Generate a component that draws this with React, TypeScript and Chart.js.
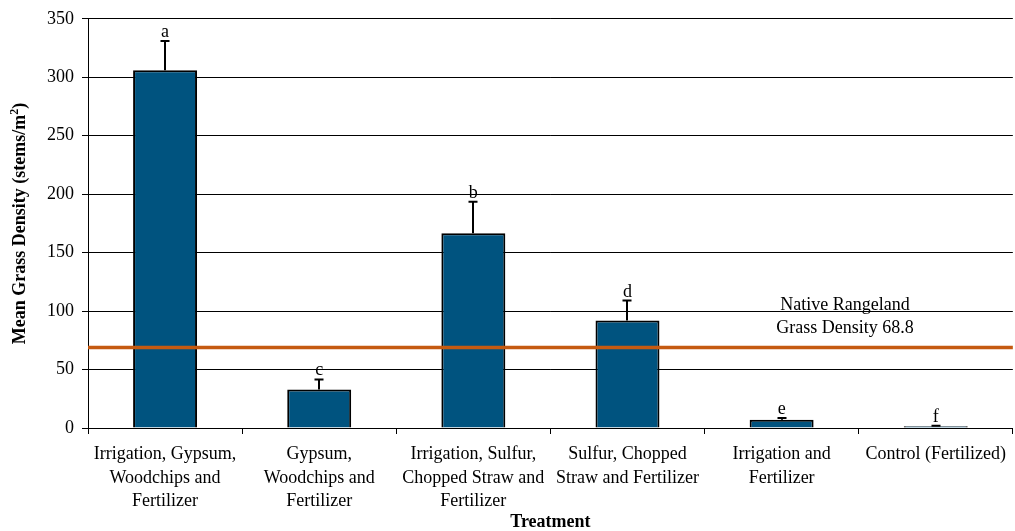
import React, { useEffect, useRef } from "react";
import { Chart, registerables } from "chart.js";

Chart.register(...registerables);

// Treatments (x categories), split into the lines shown under each bar
const treatments: string[][] = [
  ["Irrigation, Gypsum,", "Woodchips and", "Fertilizer"],
  ["Gypsum,", "Woodchips and", "Fertilizer"],
  ["Irrigation, Sulfur,", "Chopped Straw and", "Fertilizer"],
  ["Sulfur, Chopped", "Straw and Fertilizer"],
  ["Irrigation and", "Fertilizer"],
  ["Control (Fertilized)"],
];

// Mean grass density (stems/m²) and the upper error (standard error)
const meanDensity: number[] = [306, 33, 166.5, 92, 7, 1.5];
const stdError: number[] = [25, 8.5, 27, 17, 1.5, 0.5];

// Significance letters above each error bar
const groupLetters: string[] = ["a", "c", "b", "d", "e", "f"];

// Reference level for native rangeland
const nativeDensity = 68.8;
const nativeLabel: string[] = ["Native Rangeland", `Grass Density ${nativeDensity}`];

const yTitleMain = "Mean Grass Density (stems/m";
const yTitleSup = "2";
const yTitleEnd = ")";
const xTitle = "Treatment";

const SERIF = "'Liberation Serif', 'Times New Roman', serif";
const BAR_COLOR = "#00537F";
const LINE_COLOR = "#C55A11";

const overlayPlugin = {
  id: "overlay",
  afterDatasetsDraw(chart: any) {
    const { ctx, chartArea, scales } = chart;
    const y = scales.y;
    const meta = chart.getDatasetMeta(0);
    ctx.save();

    // error bars (upper only)
    ctx.strokeStyle = "#000";
    ctx.lineWidth = 2;
    meta.data.forEach((bar: any, i: number) => {
      const x = Math.round(bar.x);
      const yBar = y.getPixelForValue(meanDensity[i]);
      const yTop = y.getPixelForValue(meanDensity[i] + stdError[i]);
      ctx.beginPath();
      ctx.moveTo(x, yBar);
      ctx.lineTo(x, yTop);
      ctx.moveTo(x - 4.5, yTop);
      ctx.lineTo(x + 4.5, yTop);
      ctx.stroke();
    });

    // native rangeland reference line
    const yRef = y.getPixelForValue(nativeDensity);
    ctx.strokeStyle = LINE_COLOR;
    ctx.lineWidth = 3.5;
    ctx.beginPath();
    ctx.moveTo(chartArea.left, yRef);
    ctx.lineTo(chartArea.right, yRef);
    ctx.stroke();

    // letters
    ctx.fillStyle = "#000";
    ctx.font = `18px ${SERIF}`;
    ctx.textAlign = "center";
    ctx.textBaseline = "alphabetic";
    meta.data.forEach((bar: any, i: number) => {
      const yTop = y.getPixelForValue(meanDensity[i] + stdError[i]);
      ctx.fillText(groupLetters[i], bar.x, yTop - 4);
    });

    // reference line label
    const lx = chartArea.left + (chartArea.right - chartArea.left) * 0.8185;
    ctx.textBaseline = "middle";
    ctx.fillText(nativeLabel[0], lx, yRef - 42);
    ctx.fillText(nativeLabel[1], lx, yRef - 19);

    // axis titles
    ctx.font = `bold 18px ${SERIF}`;
    ctx.textBaseline = "alphabetic";
    ctx.fillText(xTitle, (chartArea.left + chartArea.right) / 2, 527);

    const supFont = `bold 12px ${SERIF}`;
    const mainFont = `bold 18px ${SERIF}`;
    ctx.font = mainFont;
    const w1 = ctx.measureText(yTitleMain).width;
    const w3 = ctx.measureText(yTitleEnd).width;
    ctx.font = supFont;
    const w2 = ctx.measureText(yTitleSup).width;
    const total = w1 + w2 + w3;
    ctx.translate(25, (chartArea.top + chartArea.bottom) / 2);
    ctx.rotate(-Math.PI / 2);
    ctx.textAlign = "left";
    let cx = -total / 2;
    ctx.font = mainFont;
    ctx.fillText(yTitleMain, cx, 0);
    cx += w1;
    ctx.font = supFont;
    ctx.fillText(yTitleSup, cx, -7);
    cx += w2;
    ctx.font = mainFont;
    ctx.fillText(yTitleEnd, cx, 0);

    ctx.restore();
  },
};

export default function App() {
  const canvasRef = useRef<HTMLCanvasElement | null>(null);

  useEffect(() => {
    if (!canvasRef.current) return;
    const chart = new Chart(canvasRef.current, {
      type: "bar",
      data: {
        labels: treatments,
        datasets: [
          {
            data: meanDensity,
            backgroundColor: BAR_COLOR,
            borderColor: "#000",
            borderWidth: 2,
            barPercentage: 0.415,
            categoryPercentage: 1,
          },
        ],
      },
      options: {
        animation: false,
        responsive: false,
        devicePixelRatio: 1,
        layout: { padding: { top: 18, left: 0, right: 0, bottom: 0 } },
        plugins: {
          legend: { display: false },
          tooltip: { enabled: false },
        },
        scales: {
          x: {
            offset: true,
            grid: {
              offset: true,
              drawOnChartArea: false,
              drawTicks: true,
              tickLength: 6,
              color: "#000",
            },
            border: { display: true, color: "#000", width: 1 },
            ticks: {
              autoSkip: false,
              maxRotation: 0,
              minRotation: 0,
              padding: 9,
              color: "#000",
              font: { family: SERIF, size: 18, lineHeight: 1.3 },
            },
            afterFit: (scale: any) => {
              scale.height = 103;
            },
          },
          y: {
            min: 0,
            max: 350,
            ticks: {
              stepSize: 50,
              padding: 8,
              color: "#000",
              font: { family: SERIF, size: 18 },
            },
            grid: { color: "#000", tickLength: 6, drawTicks: true },
            border: { display: true, color: "#000", width: 1 },
            afterFit: (scale: any) => {
              scale.width = 88;
            },
          },
        },
      },
      plugins: [overlayPlugin],
    });
    return () => chart.destroy();
  }, []);

  return (
    <div style={{ position: "fixed", left: 0, top: 0, width: 1015, height: 531, background: "#fff" }}>
      <canvas ref={canvasRef} width={1015} height={531} style={{ width: 1015, height: 531 }} />
    </div>
  );
}
